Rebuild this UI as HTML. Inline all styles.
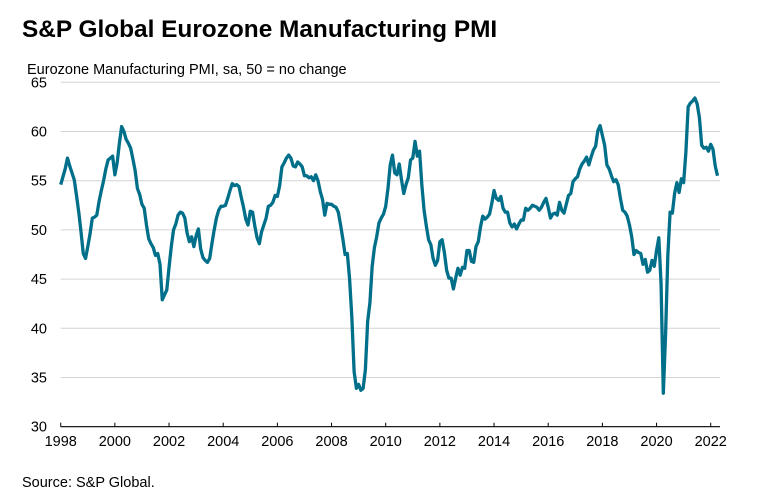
<!DOCTYPE html>
<html><head><meta charset="utf-8"><style>
body{margin:0;background:#fff;}
svg text{font-family:"Liberation Sans",Arial,sans-serif;}
</style></head><body>
<svg id="chart" width="765" height="498" viewBox="0 0 765 498">
<text x="22" y="37" font-size="24.4" font-weight="bold" fill="#000">S&amp;P Global Eurozone Manufacturing PMI</text>
<text x="27" y="74" font-size="14.5" fill="#000">Eurozone Manufacturing PMI, sa, 50 = no change</text>
<text x="22" y="487" font-size="14.5" fill="#000">Source: S&amp;P Global.</text>
<g id="grid"></g>
<g id="yticks"></g>
<g id="xticks"></g>
<path id="line" fill="none" stroke="#006f8a" stroke-width="3.3" stroke-linejoin="round"></path>
</svg>
<script>
const yTicks=[30,35,40,45,50,55,60,65];
const xYears=[1998,2000,2002,2004,2006,2008,2010,2012,2014,2016,2018,2020,2022];
const startYear=1998;
const pmi=[
54.6,55.4,56.2,57.3,56.5,55.8,55.1,53.5,51.8,49.8,47.6,47.1,
48.3,49.6,51.2,51.3,51.5,52.9,54.0,55.0,56.2,57.1,57.3,57.5,
55.6,56.8,58.8,60.5,60.0,59.2,58.8,58.3,57.2,56.0,54.2,53.6,
52.6,52.2,50.5,49.1,48.6,48.2,47.4,47.6,46.5,42.9,43.4,43.9,
46.2,48.3,50.0,50.6,51.5,51.8,51.7,51.2,49.7,48.8,49.3,48.3,
49.4,50.1,48.1,47.2,46.9,46.7,47.1,48.6,50.0,51.2,52.0,52.4,
52.4,52.5,53.2,54.0,54.7,54.5,54.6,54.4,53.3,52.3,51.1,50.5,
51.9,51.8,50.4,49.2,48.6,49.8,50.5,51.2,52.4,52.5,52.8,53.5,
53.4,54.5,56.4,56.8,57.3,57.6,57.3,56.5,56.4,56.9,56.7,56.4,
55.5,55.5,55.3,55.4,55.0,55.6,55.0,53.9,53.1,51.5,52.7,52.6,
52.6,52.4,52.3,51.8,50.5,49.1,47.5,47.6,45.0,41.1,35.6,33.9,
34.3,33.7,33.9,35.8,40.7,42.6,46.3,48.2,49.3,50.7,51.2,51.6,
52.4,54.2,56.6,57.6,55.8,55.6,56.7,55.1,53.7,54.6,55.3,57.1,
57.3,59.0,57.5,58.0,54.6,52.0,50.4,49.0,48.5,47.1,46.4,46.9,
48.8,49.0,47.7,45.9,45.1,45.1,44.0,45.1,46.1,45.4,46.2,46.1,
47.9,47.9,46.8,46.7,48.3,48.8,50.3,51.4,51.1,51.3,51.6,52.7,
54.0,53.2,53.0,53.4,52.2,51.8,51.8,50.7,50.3,50.6,50.1,50.6,
51.0,51.0,52.2,52.0,52.2,52.5,52.4,52.3,52.0,52.3,52.8,53.2,
52.3,51.2,51.6,51.7,51.5,52.8,52.0,51.7,52.6,53.5,53.7,54.9,
55.2,55.4,56.2,56.7,57.0,57.4,56.6,57.4,58.1,58.5,60.1,60.6,
59.6,58.6,56.6,56.2,55.5,54.9,55.1,54.6,53.2,52.0,51.8,51.4,
50.5,49.3,47.5,47.9,47.7,47.6,46.5,47.0,45.7,45.9,46.9,46.3,
47.9,49.2,44.5,33.4,39.4,47.4,51.8,51.7,53.7,54.8,53.8,55.2,
54.8,57.9,62.5,62.9,63.1,63.4,62.8,61.4,58.6,58.3,58.4,58.0,
58.7,58.2,56.5,55.5
];
const NS='http://www.w3.org/2000/svg';
const x0=60.7,pxMonth=2.257,yTop=82.3,pxUnit=9.84;
function xs(m){return x0+m*pxMonth;}
function ys(v){return yTop+(65-v)*pxUnit;}
const grid=document.getElementById('grid'),yg=document.getElementById('yticks'),xg=document.getElementById('xticks');
yTicks.forEach(v=>{
  if(v>30){const l=document.createElementNS(NS,'line');
  l.setAttribute('x1',x0);l.setAttribute('x2',720);l.setAttribute('y1',ys(v));l.setAttribute('y2',ys(v));
  l.setAttribute('stroke','#d4d4d4');l.setAttribute('stroke-width','1');
  
  
  grid.appendChild(l);}
  const t=document.createElementNS(NS,'text');
  t.setAttribute('x',47);t.setAttribute('y',ys(v)+5);t.setAttribute('text-anchor','end');t.setAttribute('font-size','14.5');
  t.textContent=v;
  
  
  yg.appendChild(t);
});
const ax=document.createElementNS(NS,'line');
ax.setAttribute('x1',x0);ax.setAttribute('x2',720);ax.setAttribute('y1',ys(30));ax.setAttribute('y2',ys(30));
ax.setAttribute('stroke','#000');ax.setAttribute('stroke-width','1.2');


xg.appendChild(ax);
xYears.forEach(y=>{
  const m=(y-startYear)*12,x=xs(m);
  const tk=document.createElementNS(NS,'line');
  tk.setAttribute('x1',x);tk.setAttribute('x2',x);tk.setAttribute('y1',ys(30)-4);tk.setAttribute('y2',ys(30));
  tk.setAttribute('stroke','#000');
  
  
  xg.appendChild(tk);
  const t=document.createElementNS(NS,'text');
  t.setAttribute('x',x);t.setAttribute('y',446);t.setAttribute('text-anchor','middle');t.setAttribute('font-size','14.5');
  t.textContent=y;
  
  
  xg.appendChild(t);
});
document.getElementById('line').setAttribute('d',pmi.map((v,i)=>(i?'L':'M')+xs(i).toFixed(2)+','+ys(v).toFixed(2)).join(''));
</script>
</body></html>
